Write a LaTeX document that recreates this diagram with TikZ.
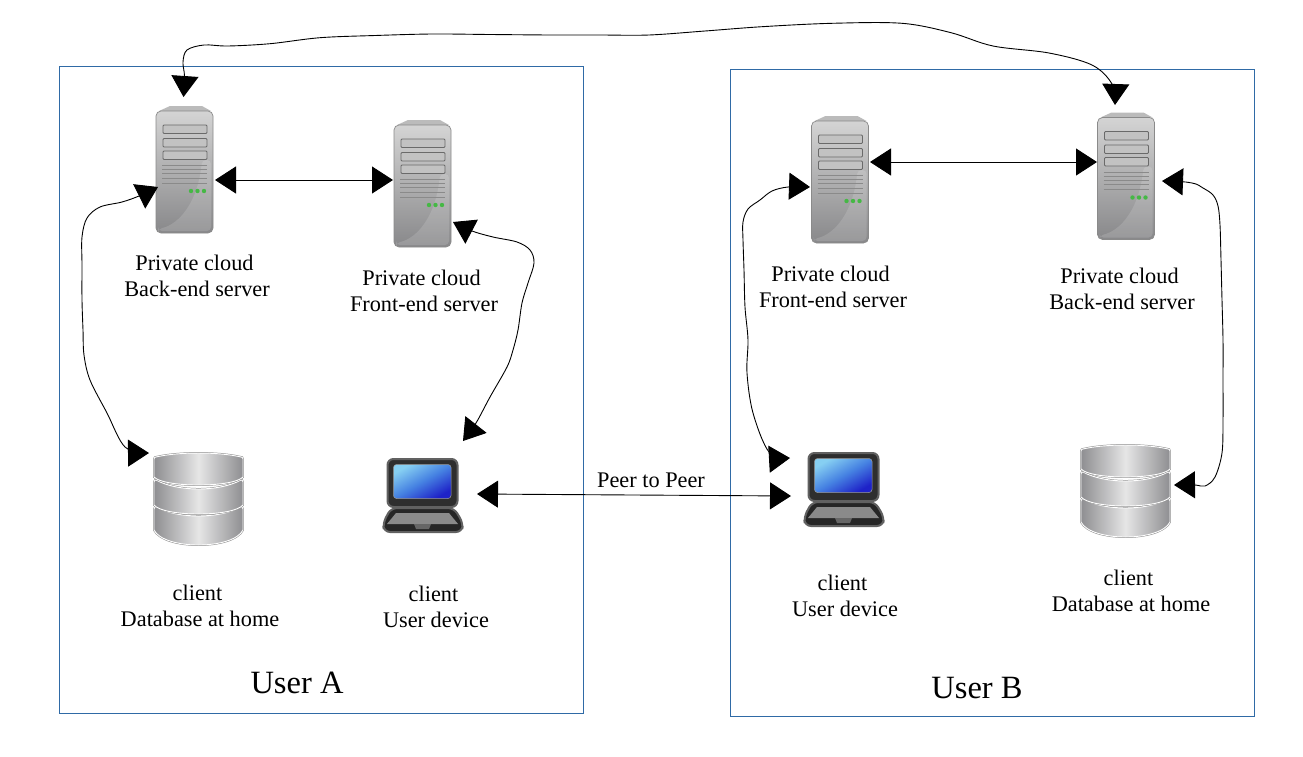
\documentclass[tikz,border=0pt]{standalone}
\usepackage{fontspec}
\setmainfont{Liberation Serif}
\usetikzlibrary{arrows.meta}
\definecolor{boxA}{HTML}{2F6AA6}
\definecolor{srvTop}{HTML}{D4D4D4}
\definecolor{srvBot}{HTML}{88888A}
\definecolor{srvEdge}{HTML}{8A8A8A}
\definecolor{bay}{HTML}{C2C2C2}
\definecolor{bayEdge}{HTML}{6A6A6A}
\definecolor{vent}{HTML}{8A8A8A}
\definecolor{led}{HTML}{45B845}
\definecolor{dbEdge}{HTML}{8C8C8C}
\definecolor{dbMid}{HTML}{E6E6E6}
\definecolor{dbSide}{HTML}{8E8E91}
\definecolor{scrA}{HTML}{86CFF2}
\definecolor{scrB}{HTML}{4682E2}
\definecolor{scrC}{HTML}{1E22C8}
\tikzset{
  usrbox/.style={line width=0.9pt,fill=white},
  conn/.style={line width=0.9pt,black,{Triangle[length=21pt,width=27pt]}-{Triangle[length=21pt,width=27pt]}},
  lbl/.style={align=center,inner sep=0pt,font=\fontsize{22.3pt}{25.6pt}\selectfont},
  title/.style={inner sep=0pt,font=\fontsize{32.5pt}{36pt}\selectfont},
  icon/.style={inner sep=0pt,minimum width=#1,draw=none},
}
\newcommand{\nudge}{\hspace*{5pt}}
\newcommand{\srvicon}[3]{% name, left x, top y
  \begin{scope}[shift={(#2,#3)}]
    \fill[srvTop!70!gray] (3,5) -- (14,0) -- (46,0) -- (55,5) -- cycle;
    \shade[draw=srvEdge,line width=0.7pt,rounded corners=5pt,top color=srvTop,bottom color=srvBot]
      (0,5) rectangle (57,127);
    \fill[white,opacity=.14,rounded corners=4pt] (2,123) .. controls (24,118) and (42,95) .. (46,54) -- (55,54) -- (55,125) -- (2,125) -- cycle;
    \foreach \yy in {19,32.5,45}
      \draw[bayEdge,fill=bay,line width=0.9pt,rounded corners=1pt] (7,\yy) rectangle (51,\yy+8.5);
    \foreach \yy in {59.5,63.5,67.5,72,77}
      \draw[vent,line width=0.7pt] (6,\yy) -- (51,\yy);
    \foreach \xx in {35,41.5,48}
      \fill[led] (\xx,85) circle (2.2);
    \node[icon=57pt,minimum height=127pt] (#1) at (28.5,63.5) {};
  \end{scope}}
\newcommand{\diskpath}[4]{(1,#1+2) .. controls (1.5,#1) and (2,#1) .. (3,#1) .. controls (25,#2) and (66,#2) .. (88,#1) .. controls (89,#1) and (89.5,#1) .. (90,#1+2) -- (90,#3) .. controls (80,#4) and (11,#4) .. (1,#3) -- cycle}
\newcommand{\diskpart}[4]{%
  \draw[dbEdge,line width=1.9pt] \diskpath{#1}{#2}{#3}{#4};
  \shade[draw=white,line width=0.9pt,left color=dbSide,right color=dbSide,middle color=dbMid] \diskpath{#1}{#2}{#3}{#4};}
\newcommand{\dbicon}[3]{%
  \begin{scope}[shift={(#2,#3)}]
    \diskpart{54}{66}{77}{97}
    \diskpart{27}{39}{52}{64}
    \diskpart{4}{-1.3}{24}{34.7}
    \node[icon=91pt,minimum height=93pt] (#1) at (45.5,46.5) {};
  \end{scope}}
\newcommand{\lapicon}[3]{%
  \begin{scope}[shift={(#2,#3)}]
    \draw[fill=black!82,draw=black!62,line width=2pt,rounded corners=6pt] (5.5,1) rectangle (75.5,49);
    \shade[rounded corners=3pt,draw=black!40,line width=0.5pt,left color=scrA,right color=scrC,middle color=scrB,shading angle=30]
      (11.5,6.5) rectangle (69,40.5);
    \draw[fill=black!85,draw=black!62,line width=2pt,rounded corners=6pt]
      (9,50) -- (72,50) -- (81,65) -- (80,74) -- (2,74) -- (1,65) -- cycle;
    \fill[black!46] (14,55) -- (67,55) -- (76,66) -- (5,66) -- cycle;
    \fill[black!60] (32,66) -- (49,66) -- (47,71) -- (34,71) -- cycle;
    \node[icon=82pt,minimum height=75pt] (#1) at (41,37.5) {};
  \end{scope}}
\begin{document}
\begin{tikzpicture}[x=1pt,y=-1pt]
\useasboundingbox (0,0) rectangle (1303,756);
\fill[white] (0,0) rectangle (1303,756);
% boxes
\node[usrbox,draw=boxA,inner sep=0pt,minimum width=523.5pt,minimum height=647pt] (boxUA) at (321.25,389.5) {};
\node[usrbox,draw=boxA,inner sep=0pt,minimum width=524pt,minimum height=646.5pt] (boxUB) at (992,392.75) {};
% icons
\srvicon{srvAback}{156}{106}
\srvicon{srvAfront}{394}{120}
\srvicon{srvBfront}{811.5}{116}
\srvicon{srvBback}{1097.5}{112.5}
\dbicon{dbA}{153}{453}
\dbicon{dbB}{1080}{445}
\lapicon{lapA}{382}{458}
\lapicon{lapB}{803}{452}
% connector ends
\coordinate (tAtop) at (183.5,97);
\coordinate (tBtop) at (1115,105);
\coordinate (tAbl) at (158,187);
\coordinate (tAdb) at (149,453);
\coordinate (tAbr) at (215,180);
\coordinate (tAfl) at (393,180);
\coordinate (tAfr) at (453,222);
\coordinate (tAlap) at (463,441);
\coordinate (tBfl) at (810,187);
\coordinate (tBlap) at (790,458);
\coordinate (tBfr) at (870,162);
\coordinate (tBbl) at (1097,162);
\coordinate (tBbr) at (1162,181);
\coordinate (tBdb) at (1174,485);
\coordinate (tPa) at (477,494);
\coordinate (tPb) at (791,496);
% connectors
\draw[conn] (tAbr) -- (tAfl);
\draw[conn] (tBfr) -- (tBbl);
\draw[conn] (tPa) -- (tPb);
\draw[conn] plot[smooth,tension=0.55] coordinates {(tAtop) (184.5,76) (183,62) (187,50) (204,45) (228,46) (270,43.7) (320,37.7) (375,35.5) (432,34) (490,34.5) (551,35) (600,35) (649,35) (705,31) (762,26.7) (832,23.3) (902,23.3) (951,32.7) (993,46) (1049,53) (1092,65) (1112,84) (tBtop)};
\draw[conn] plot[smooth,tension=0.55] coordinates {(tAbl) (139,196) (122,202) (100,207) (87,218) (82,237) (82,265) (82,300) (83,330) (84,355) (90,380) (107,413) (125,447) (tAdb)};
\draw[conn] plot[smooth,tension=0.55] coordinates {(tAfr) (472,231) (493,237) (517,242) (530,250) (534,263) (528,283) (522,303) (518,330) (513,350) (507,367) (490,397) (476,423) (tAlap)};
\draw[conn] plot[smooth,tension=0.55] coordinates {(tBfl) (788,187) (772,191) (760,200) (748,209) (743,222) (743,240) (744,270) (745,307) (748,340) (747,373) (753,413) (769,452) (tBlap)};
\draw[conn] plot[smooth,tension=0.55] coordinates {(tBbr) (1192,183) (1203,188) (1213,195) (1218,206) (1220,225) (1221,260) (1222,300) (1223,340) (1223,380) (1223,420) (1222,453) (1215,477) (1205,486) (1195,485) (tBdb)};
% labels
\node[lbl] (lA1) at (197,276) {Private cloud\nudge\\Back-end server};
\node[lbl] (lA2) at (424,291) {Private cloud\nudge\\Front-end server};
\node[lbl] (lB1) at (833,287) {Private cloud\nudge\\Front-end server};
\node[lbl] (lB2) at (1122,289) {Private cloud\nudge\\Back-end server};
\node[lbl] (lA3) at (200,606) {client\nudge\\Database at home};
\node[lbl] (lA4) at (436,607) {client\nudge\\User device};
\node[lbl] (lB3) at (845,596) {client\nudge\\User device};
\node[lbl] (lB4) at (1131,591) {client\nudge\\Database at home};
\node[lbl] (lP) at (651,480) {Peer to Peer};
\node[title] (tUA) at (297,683) {User A};
\node[title] (tUB) at (977,688) {User B};
\end{tikzpicture}
\end{document}
